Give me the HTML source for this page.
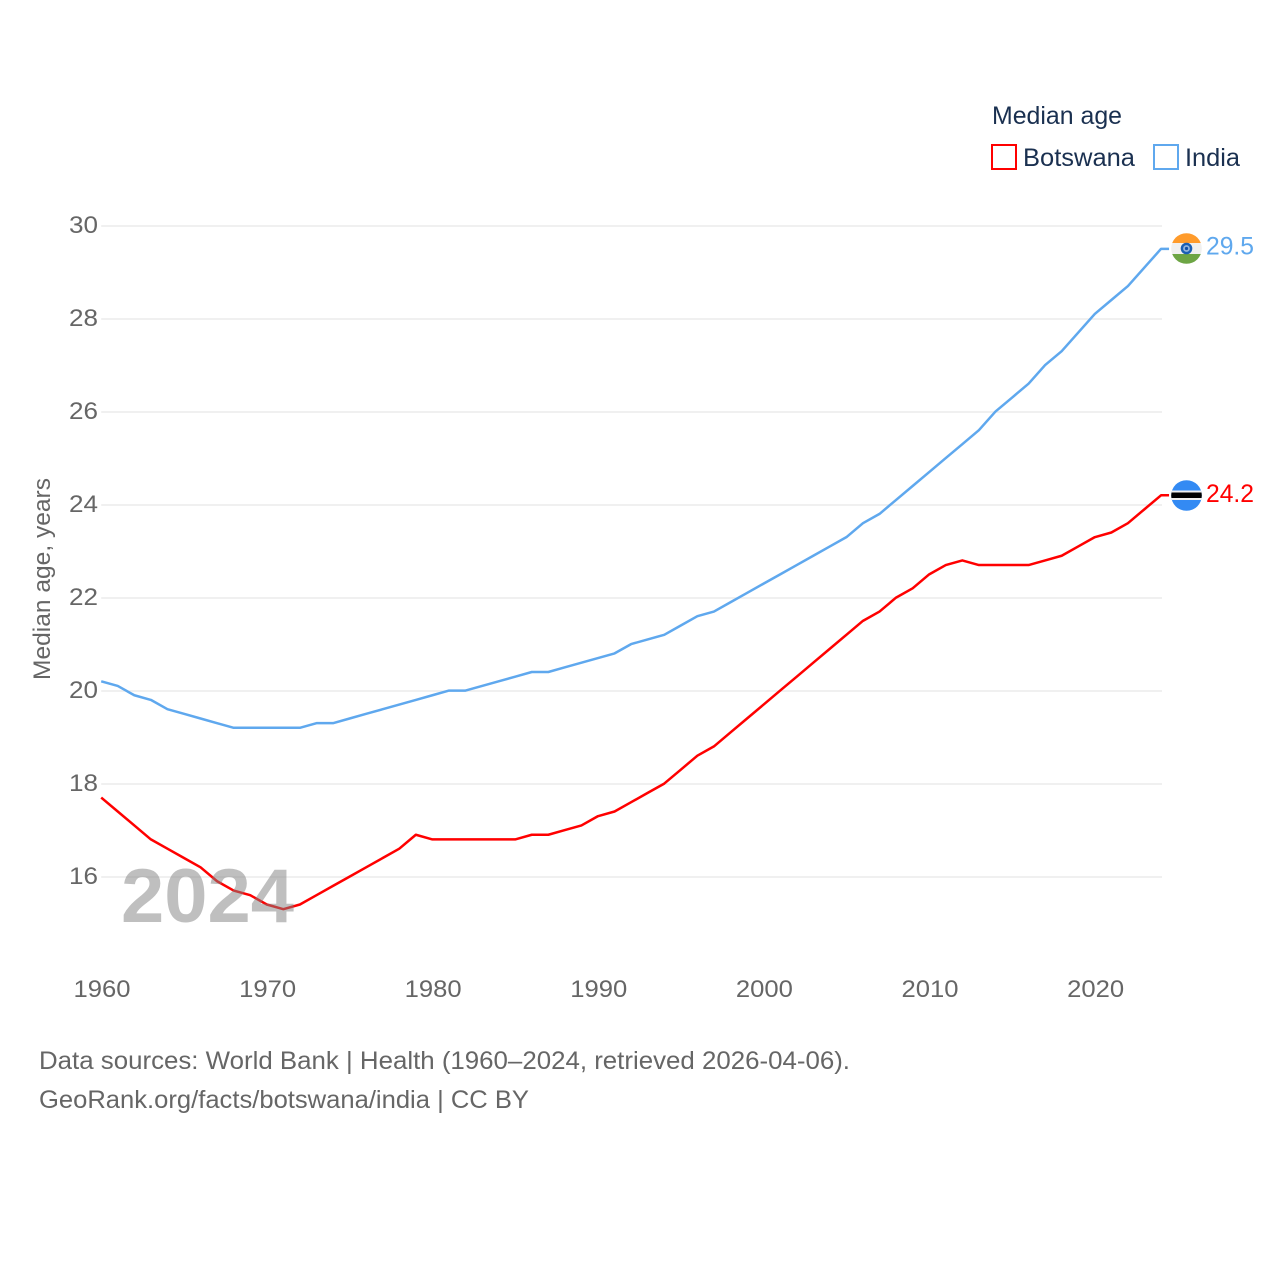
<!DOCTYPE html>
<html lang="en">
<head>
<meta charset="utf-8">
<title>Median age: Botswana and India</title>
<style>
html,body{margin:0;padding:0;background:#fff;}
svg{display:block;}
text{font-family:"Liberation Sans",sans-serif;}
</style>
</head>
<body>
<svg id="chart" xmlns="http://www.w3.org/2000/svg" width="1280" height="1280" viewBox="0 0 1280 1280">
  <rect x="0" y="0" width="1280" height="1280" fill="#fff"/>
  <defs>
    <clipPath id="clip-india"><circle cx="1186.5" cy="248.5" r="15.3"/></clipPath>
    <clipPath id="clip-botswana"><circle cx="1186.5" cy="495.5" r="15.3"/></clipPath>
  </defs>
  <g id="grid"></g>
  <g id="y-ticks"></g>
  <g id="x-ticks"></g>
  <text transform="translate(50,579) rotate(-90)" text-anchor="middle" font-size="24" fill="#666" textLength="202" lengthAdjust="spacingAndGlyphs">Median age, years</text>
  <g id="lines"></g>
  <g id="end-labels"></g>

  <g clip-path="url(#clip-india)">
    <rect x="1171" y="233" width="31" height="10" fill="#ff9b2b"/>
    <rect x="1171" y="243" width="31" height="11" fill="#f0f0f0"/>
    <rect x="1171" y="254" width="31" height="11" fill="#6da544"/>
    <circle cx="1186.5" cy="248.5" r="5.8" fill="#1a5fb4"/>
    <circle cx="1186.5" cy="248.5" r="3.4" fill="#8fb2de"/>
    <circle cx="1186.5" cy="248.5" r="1.6" fill="#1250a8"/>
  </g>
  <g clip-path="url(#clip-botswana)">
    <rect x="1171" y="480" width="31" height="32" fill="#338af3"/>
    <rect x="1171" y="490.5" width="31" height="9.5" fill="#f0f0f0"/>
    <rect x="1171" y="492.5" width="31" height="5.5" fill="#000"/>
  </g>

  <text x="992" y="124" font-size="25" fill="#1a3050" textLength="130" lengthAdjust="spacingAndGlyphs">Median age</text>
  <rect x="992" y="145" width="24" height="24" fill="#fff" stroke="#ff0000" stroke-width="2"/>
  <text x="1023" y="166" font-size="25" fill="#1a3050" textLength="112" lengthAdjust="spacingAndGlyphs">Botswana</text>
  <rect x="1154" y="145" width="24" height="24" fill="#fff" stroke="#5fa8ee" stroke-width="2"/>
  <text x="1185" y="166" font-size="25" fill="#1a3050" textLength="55" lengthAdjust="spacingAndGlyphs">India</text>

  <text x="121" y="922" font-size="76" font-weight="bold" fill="#808080" fill-opacity="0.5" textLength="173" lengthAdjust="spacingAndGlyphs">2024</text>

  <text x="39" y="1069" font-size="25" fill="#666" textLength="811" lengthAdjust="spacingAndGlyphs">Data sources: World Bank | Health (1960–2024, retrieved 2026-04-06).</text>
  <text x="39" y="1108" font-size="25" fill="#666" textLength="490" lengthAdjust="spacingAndGlyphs">GeoRank.org/facts/botswana/india | CC BY</text>
</svg>
<script>
const startYear = 1960;
const yTickValues = [16, 18, 20, 22, 24, 26, 28, 30];
const xTickValues = [1960, 1970, 1980, 1990, 2000, 2010, 2020];
const botswanaValues = [17.7,17.4,17.1,16.8,16.6,16.4,16.2,15.9,15.7,15.6,15.4,15.3,15.4,15.6,15.8,16.0,16.2,16.4,16.6,16.9,16.8,16.8,16.8,16.8,16.8,16.8,16.9,16.9,17.0,17.1,17.3,17.4,17.6,17.8,18.0,18.3,18.6,18.8,19.1,19.4,19.7,20.0,20.3,20.6,20.9,21.2,21.5,21.7,22.0,22.2,22.5,22.7,22.8,22.7,22.7,22.7,22.7,22.8,22.9,23.1,23.3,23.4,23.6,23.9,24.2];
const indiaValues = [20.2,20.1,19.9,19.8,19.6,19.5,19.4,19.3,19.2,19.2,19.2,19.2,19.2,19.3,19.3,19.4,19.5,19.6,19.7,19.8,19.9,20.0,20.0,20.1,20.2,20.3,20.4,20.4,20.5,20.6,20.7,20.8,21.0,21.1,21.2,21.4,21.6,21.7,21.9,22.1,22.3,22.5,22.7,22.9,23.1,23.3,23.6,23.8,24.1,24.4,24.7,25.0,25.3,25.6,26.0,26.3,26.6,27.0,27.3,27.7,28.1,28.4,28.7,29.1,29.5];

const NS = 'http://www.w3.org/2000/svg';
function xScale(year) { return 101.2 + (year - 1960) * 16.56; }
function yScale(v) { return 876.6 - (v - 16) * 46.5; }
function make(tag, attrs, parent, content) {
  const el = document.createElementNS(NS, tag);
  for (const k in attrs) el.setAttribute(k, attrs[k]);
  if (content !== undefined) el.textContent = content;
  parent.appendChild(el);
  return el;
}

const grid = document.getElementById('grid');
const yTicks = document.getElementById('y-ticks');
yTickValues.forEach(function (v) {
  const line = make('line', {x1: xScale(1960), x2: xScale(2024) + 1, y1: yScale(v) + 0.4, y2: yScale(v) + 0.4, stroke: '#ececec', 'stroke-width': 1.6}, grid);
  
  
  const label = make('text', {x: 98, y: yScale(v) + 7.4, 'text-anchor': 'end', 'font-size': 24.5, fill: '#666', textLength: 29, lengthAdjust: 'spacingAndGlyphs'}, yTicks, String(v));
  
  
});

const xTicks = document.getElementById('x-ticks');
xTickValues.forEach(function (yr) {
  const label = make('text', {x: xScale(yr) + 0.8, y: 997, 'text-anchor': 'middle', 'font-size': 24.5, fill: '#666', textLength: 57, lengthAdjust: 'spacingAndGlyphs'}, xTicks, String(yr));
  
  
});

function linePoints(values) {
  const pts = values.map(function (v, i) { return xScale(startYear + i).toFixed(2) + ',' + yScale(v).toFixed(2); });
  const last = values[values.length - 1];
  pts.push((xScale(startYear + values.length - 1) + 8).toFixed(2) + ',' + yScale(last).toFixed(2));
  return pts.join(' ');
}

const lines = document.getElementById('lines');
const botswanaLine = make('polyline', {points: linePoints(botswanaValues), fill: 'none', stroke: '#ff0000', 'stroke-width': 2.5, 'stroke-linejoin': 'round'}, lines);


const indiaLine = make('polyline', {points: linePoints(indiaValues), fill: 'none', stroke: '#5fa8ee', 'stroke-width': 2.5, 'stroke-linejoin': 'round'}, lines);



const endLabels = document.getElementById('end-labels');
const indiaLast = indiaValues[indiaValues.length - 1];
const botswanaLast = botswanaValues[botswanaValues.length - 1];
const indiaLabel = make('text', {x: 1206, y: yScale(indiaLast) + 5.5, 'font-size': 25, fill: '#5fa8ee', textLength: 48, lengthAdjust: 'spacingAndGlyphs'}, endLabels, indiaLast.toFixed(1));


const botswanaLabel = make('text', {x: 1206, y: yScale(botswanaLast) + 6.5, 'font-size': 25, fill: '#ff0000', textLength: 48, lengthAdjust: 'spacingAndGlyphs'}, endLabels, botswanaLast.toFixed(1));


</script>
</body>
</html>
